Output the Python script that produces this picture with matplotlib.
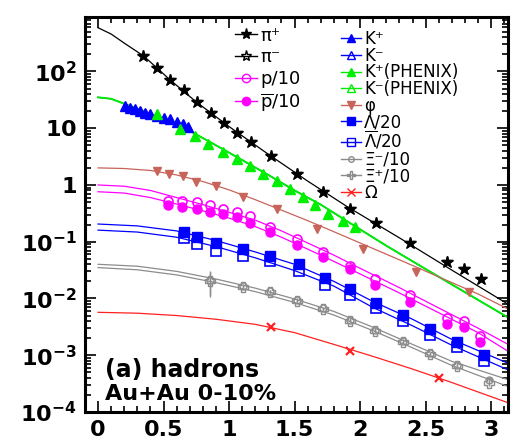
import numpy as np
import matplotlib
matplotlib.use('Agg')
import matplotlib.pyplot as plt
from matplotlib.lines import Line2D
from matplotlib.ticker import FixedLocator, LogLocator, NullFormatter, MultipleLocator

# ---- data (pT in GeV/c, yield) ----
pi_x = [0.346, 0.453, 0.55, 0.656, 0.753, 0.86, 0.962, 1.063, 1.166, 1.318, 1.52, 1.72, 1.924, 2.12, 2.38, 2.66, 2.79, 2.92]
pi_y = [185, 116, 70, 47, 29, 18.8, 12.2, 8.2, 5.75, 3.27, 1.56, 0.76, 0.38, 0.215, 0.096, 0.044, 0.033, 0.022]

k_x = [0.206, 0.245, 0.282, 0.32, 0.359, 0.40, 0.448, 0.50, 0.55, 0.60, 0.651, 0.69]
k_y = [24.6, 23.0, 21.5, 20.0, 18.8, 17.5, 16.4, 15.3, 14.4, 13.0, 11.7, 10.3]

kphx_x = [0.448, 0.626, 0.74, 0.842, 0.957, 1.06, 1.16, 1.26, 1.364, 1.466, 1.567, 1.656, 1.758, 1.873, 1.96]
kphx_y = [17.6, 9.6, 7.3, 5.2, 3.74, 2.86, 2.19, 1.56, 1.19, 0.85, 0.62, 0.44, 0.31, 0.236, 0.18]

phi_x = [0.453, 0.544, 0.651, 0.748, 0.90, 1.11, 1.364, 1.67, 2.025, 2.43, 2.83]
phi_y = [1.78, 1.56, 1.46, 1.11, 0.97, 0.61, 0.37, 0.17, 0.073, 0.029, 0.0128]

p_x = [0.537, 0.639, 0.753, 0.855, 0.957, 1.059, 1.16, 1.313, 1.517, 1.72, 1.924, 2.115, 2.38, 2.66, 2.79, 2.916]
p_y = [0.53, 0.53, 0.50, 0.44, 0.38, 0.33, 0.28, 0.18, 0.113, 0.066, 0.038, 0.0224, 0.0117, 0.0046, 0.0040, 0.0022]
pbar_y = [0.44, 0.41, 0.38, 0.33, 0.31, 0.27, 0.214, 0.148, 0.086, 0.054, 0.033, 0.0176, 0.0087, 0.0036, 0.0032, 0.0017]

lam_x = [0.656, 0.753, 0.90, 1.104, 1.313, 1.53, 1.733, 1.924, 2.122, 2.326, 2.53, 2.738, 2.947]
lam_y = [0.148, 0.121, 0.095, 0.073, 0.057, 0.040, 0.0230, 0.0146, 0.0082, 0.0051, 0.0029, 0.0017, 0.0010]
lbar_y = [0.116, 0.092, 0.070, 0.056, 0.045, 0.030, 0.0176, 0.0115, 0.0069, 0.0040, 0.0023, 0.00137, 0.00078]

xi_x = [0.855, 1.11, 1.313, 1.517, 1.72, 1.924, 2.115, 2.326, 2.534, 2.74, 2.98]
xim_y = [0.021, 0.0166, 0.0134, 0.0094, 0.0067, 0.0042, 0.0028, 0.00178, 0.00108, 0.00068, 0.00036]
xip_y = [0.020, 0.0160, 0.0130, 0.0090, 0.0064, 0.0040, 0.0027, 0.00170, 0.00104, 0.00065, 0.00033]
xi_err = [0.0095, 0.0015, 0.0009, 0.0006, 0.0004, 0.0003, 0.0002, 0.00012, 0.00008, 0.00005, 0.00004]

om_x = [1.318, 1.924, 2.60]
om_y = [0.0032, 0.00119, 0.0004]

# fit curves
fit_x = [0, 0.1, 0.2, 0.35, 0.55, 0.75, 1.0, 1.3, 1.6, 1.9, 2.3, 2.7, 3.13]
pi_fit = [590, 457, 316, 186, 71, 29, 10.7, 3.47, 1.17, 0.417, 0.117, 0.0316, 0.0079]

kfit_x = [0, 0.1, 0.2, 0.35, 0.5, 0.7, 0.9, 1.1, 1.3, 1.5, 1.7, 1.9, 2.2, 2.5, 2.8, 3.13]
k_fit = [35, 33, 27, 20, 14.5, 9.0, 5.0, 2.75, 1.5, 0.80, 0.45, 0.23, 0.085, 0.033, 0.0129, 0.0046]

fit2_x = [0, 0.2, 0.4, 0.6, 0.8, 1.0, 1.2, 1.4, 1.6, 1.8, 2.0, 2.3, 2.6, 2.9, 3.13]
phi_fit = [2.0, 1.95, 1.8, 1.5, 1.15, 0.82, 0.55, 0.36, 0.235, 0.15, 0.095, 0.048, 0.024, 0.012, 0.0065]
p_fit = [1.0, 0.95, 0.8, 0.6, 0.45, 0.33, 0.24, 0.155, 0.095, 0.058, 0.034, 0.0155, 0.0068, 0.003, 0.00155]
pbar_fit = [0.76, 0.72, 0.6, 0.46, 0.35, 0.26, 0.185, 0.12, 0.074, 0.045, 0.027, 0.0125, 0.0056, 0.0025, 0.00117]

fit3_x = [0, 0.3, 0.6, 0.9, 1.2, 1.5, 1.8, 2.1, 2.4, 2.7, 3.13]
lam_fit = [0.205, 0.19, 0.155, 0.105, 0.066, 0.040, 0.020, 0.0088, 0.0043, 0.0019, 0.00072]
lbar_fit = [0.16, 0.148, 0.12, 0.082, 0.052, 0.031, 0.0165, 0.0069, 0.0033, 0.0015, 0.00055]
xim_fit = [0.040, 0.037, 0.030, 0.022, 0.0152, 0.0098, 0.0059, 0.0031, 0.00155, 0.00078, 0.00037]
xip_fit = [0.035, 0.032, 0.026, 0.019, 0.0132, 0.0085, 0.0051, 0.0027, 0.00135, 0.00066, 0.00028]
om_fit = [0.0057, 0.0055, 0.0050, 0.0043, 0.0035, 0.0025, 0.00155, 0.00095, 0.00057, 0.00033, 0.000145]

xtick_vals = [0, 0.5, 1, 1.5, 2, 2.5, 3]
xtick_labels = ['0', '0.5', '1', '1.5', '2', '2.5', '3']
ytick_vals = [1e-4, 1e-3, 1e-2, 1e-1, 1, 10, 100]
ytick_labels = [r'$\mathbf{10^{-4}}$', r'$\mathbf{10^{-3}}$', r'$\mathbf{10^{-2}}$',
                r'$\mathbf{10^{-1}}$', r'$\mathbf{1}$', r'$\mathbf{10}$', r'$\mathbf{10^{2}}$']

# colours
BLK = 'black'
BLUE = '#0000ff'
GREEN = '#00ee00'
PHI = '#c8645a'
MAG = '#ff00ff'
GRAY = '#8c8c8c'
RED = '#ff2020'

plt.rcParams['font.family'] = ['DejaVu Sans']
plt.rcParams['mathtext.fontset'] = 'dejavusans'

fig = plt.figure(figsize=(5.18, 4.42), dpi=100)
ax = fig.add_axes([0.164, 0.068, 0.817, 0.894])

lw = 0.9
# curves
ax.plot(fit_x, pi_fit, color=BLK, lw=lw)
ax.plot(kfit_x, k_fit, color=BLUE, lw=lw)
ax.plot(kfit_x, k_fit, color=GREEN, lw=1.4)
ax.plot(fit2_x, phi_fit, color=PHI, lw=lw)
ax.plot(fit2_x, p_fit, color=MAG, lw=lw)
ax.plot(fit2_x, pbar_fit, color=MAG, lw=lw)
ax.plot(fit3_x, lam_fit, color=BLUE, lw=lw)
ax.plot(fit3_x, lbar_fit, color=BLUE, lw=lw)
ax.plot(fit3_x, xim_fit, color=GRAY, lw=lw)
ax.plot(fit3_x, xip_fit, color=GRAY, lw=lw)
ax.plot(fit3_x, om_fit, color=RED, lw=lw)

# points
ax.plot(pi_x, pi_y, '*', color=BLK, ms=9, mfc='none', mew=1)
ax.plot(pi_x, pi_y, '*', color=BLK, ms=8)
ax.plot(k_x, k_y, '^', color=BLUE, ms=7, mfc='none', mew=1)
ax.plot(k_x, k_y, '^', color=BLUE, ms=6)
ax.plot(kphx_x, kphx_y, '^', color=GREEN, ms=7, mfc='none', mew=1)
ax.plot(kphx_x, kphx_y, '^', color=GREEN, ms=6)
ax.plot(phi_x, phi_y, 'v', color=PHI, ms=6)
ax.plot(p_x, p_y, 'o', color=MAG, ms=6.5, mfc='none', mew=1.2)
ax.plot(p_x, pbar_y, 'o', color=MAG, ms=6.5)
ax.plot(lam_x, lam_y, 's', color=BLUE, ms=6.5)
ax.plot(lam_x, lbar_y, 's', color=BLUE, ms=6.5, mfc='none', mew=1.2)
ax.errorbar(xi_x, xim_y, yerr=xi_err, fmt='o', color=GRAY, ms=5, mfc='none', mew=1, elinewidth=1)
ax.errorbar(xi_x, xip_y, yerr=xi_err, fmt='P', color=GRAY, ms=7, mfc='none', mew=1, elinewidth=1)
ax.plot(om_x, om_y, 'x', color=RED, ms=6, mew=1.6)

ax.set_yscale('log')
ax.set_xlim(-0.1, 3.13)
ax.set_ylim(1e-4, 920)

ax.set_xticks(xtick_vals)
ax.set_xticklabels(xtick_labels, fontweight='bold', fontsize=16)
ax.xaxis.set_minor_locator(MultipleLocator(0.1))
ax.yaxis.set_major_locator(FixedLocator(ytick_vals))
ax.set_yticklabels(ytick_labels, fontsize=16)
ax.yaxis.set_minor_locator(LogLocator(base=10, subs=np.arange(2, 10), numticks=20))
ax.yaxis.set_minor_formatter(NullFormatter())
ax.tick_params(which='both', direction='in', top=True, right=True, width=1.2)
ax.tick_params(which='major', length=8, pad=6)
ax.tick_params(which='minor', length=4)
for s in ax.spines.values():
    s.set_linewidth(2.2)

ax.text(0.047, 0.106, '(a) hadrons', transform=ax.transAxes, fontsize=17,
        fontweight='bold', va='center', ha='left')
ax.text(0.047, 0.045, 'Au+Au 0-10%', transform=ax.transAxes, fontsize=16,
        fontweight='bold', va='center', ha='left')

# legends
def h(color, marker, filled=True, ms=6):
    return Line2D([], [], color=color, marker=marker, ms=ms, lw=1,
                  mfc=color if filled else 'none', mew=1)

leg1_handles = [h(BLK, '*', True, 8), h(BLK, '*', False, 8),
                h(MAG, 'o', False), h(MAG, 'o', True)]
leg1_labels = ['π⁺', 'π⁻', 'p/10', r'$\overline{\mathrm{p}}$/10']
leg2_handles = [h(BLUE, '^'), h(BLUE, '^', False), h(GREEN, '^'), h(GREEN, '^', False),
                h(PHI, 'v'), h(BLUE, 's'), h(BLUE, 's', False),
                h(GRAY, 'o', False, 4), h(GRAY, 'P', False), h(RED, 'x')]
leg2_labels = ['K⁺', 'K⁻', 'K⁺(PHENIX)', 'K⁻(PHENIX)', 'φ', 'Λ/20',
               r'$\overline{\Lambda}$/20', 'Ξ⁻/10', 'Ξ⁺/10', 'Ω']

leg1 = ax.legend(leg1_handles, leg1_labels, loc='upper left', bbox_to_anchor=(0.355, 0.975),
                 frameon=False, fontsize=13, handlelength=1.2, handletextpad=0.2,
                 labelspacing=0.2, borderaxespad=0, borderpad=0)
ax.add_artist(leg1)
ax.legend(leg2_handles, leg2_labels, loc='upper left', bbox_to_anchor=(0.605, 0.966),
          frameon=False, fontsize=12, handlelength=1.2, handletextpad=0.2,
          labelspacing=-0.085, borderaxespad=0, borderpad=0)

fig.savefig('out.png', dpi=100)
